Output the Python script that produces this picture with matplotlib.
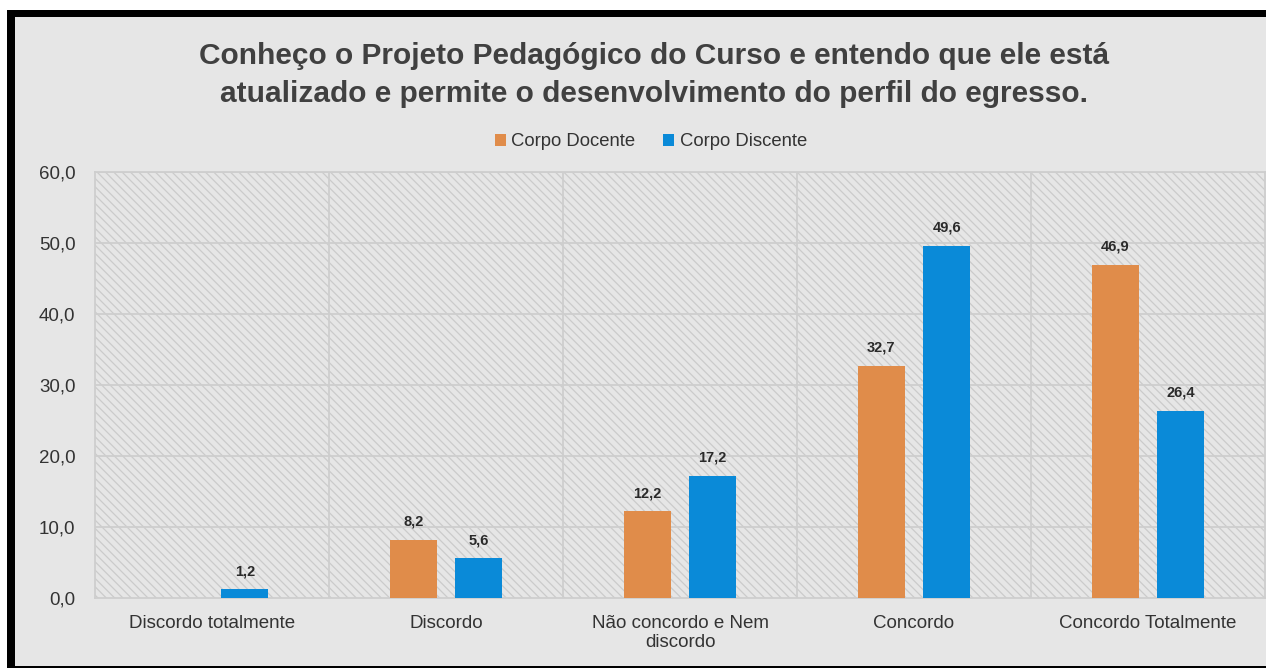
import matplotlib.pyplot as plt
import numpy as np
from matplotlib.patches import Rectangle

plt.rcParams['font.family'] = ['Liberation Sans', 'DejaVu Sans']
plt.rcParams['hatch.linewidth'] = 0.9

# data
categorias = ['Discordo totalmente', 'Discordo', 'Não concordo e Nem\ndiscordo',
              'Concordo', 'Concordo Totalmente']
docente = [0.0, 8.2, 12.2, 32.7, 46.9]
discente = [1.2, 5.6, 17.2, 49.6, 26.4]
series = ['Corpo Docente', 'Corpo Discente']
yticks = [0, 10, 20, 30, 40, 50, 60]

cor_docente = '#E08C4A'
cor_discente = '#0A8AD8'
fundo = '#E6E6E6'
grade = '#CECECE'
texto = '#333333'

W, H = 1266, 668
fig = plt.figure(figsize=(W / 100, H / 100), dpi=100)
fig.patch.set_facecolor('white')


def px_rect(x0, y0, x1, y1, color, z):
    # retangulo em pixels (origem no topo)
    r = Rectangle((x0 / W, 1 - y1 / H), (x1 - x0) / W, (y1 - y0) / H,
                  transform=fig.transFigure, facecolor=color,
                  edgecolor='none', zorder=z)
    fig.patches.append(r)


# fundo cinza e moldura preta (esquerda, topo, baixo)
px_rect(7, 10, W, H, fundo, -10)
px_rect(7, 10, 15, H, 'black', -9)
px_rect(7, 10, W, 17, 'black', -9)
px_rect(7, 666, W, H, 'black', -9)

ax = fig.add_axes([95 / W, 1 - 598 / H, (1265 - 95) / W, (598 - 172) / H])
ax.set_facecolor(fundo)
bg = Rectangle((0, 0), 1, 1, transform=ax.transAxes, facecolor=fundo,
               edgecolor='#CBCBCB', hatch='\\\\\\\\', linewidth=0, zorder=0)
ax.add_patch(bg)

x = np.arange(len(categorias))
w = 0.2
off = 0.14
b1 = ax.bar(x - off, docente, w, color=cor_docente, label=series[0], zorder=3)
b2 = ax.bar(x + off, discente, w, color=cor_discente, label=series[1], zorder=3)

for bars, vals in [(b1, docente), (b2, discente)]:
    for b, v in zip(bars, vals):
        if v > 0:
            ax.annotate(f'{v:.1f}'.replace('.', ','),
                        (b.get_x() + b.get_width() / 2, v),
                        xytext=(0, 8), textcoords='offset points',
                        ha='center', va='bottom', fontsize=10.5,
                        fontweight='bold', color='#2a2a2a', zorder=4)

ax.set_xlim(-0.5, len(categorias) - 0.5)
ax.set_ylim(0, 60)
ax.set_yticks(yticks)
ax.set_yticklabels([f'{t:.1f}'.replace('.', ',') for t in yticks])
ax.set_xticks(x)
ax.set_xticklabels(categorias)
ax.tick_params(axis='both', length=0, labelsize=13.5, labelcolor=texto)
ax.tick_params(axis='y', pad=14)
ax.tick_params(axis='x', pad=12)

for t in yticks[1:]:
    ax.axhline(t, color=grade, linewidth=1.3, zorder=1)
for s in np.arange(0.5, len(categorias) - 0.5, 1):
    ax.axvline(s, color=grade, linewidth=1.3, zorder=1)
for sp in ax.spines.values():
    sp.set_color(grade)
    sp.set_linewidth(1.3)

fig.text(654 / W, 1 - 75 / H,
         'Conheço o Projeto Pedagógico do Curso e entendo que ele está\n'
         'atualizado e permite o desenvolvimento do perfil do egresso.',
         ha='center', va='center', fontsize=21.5, fontweight='bold',
         color='#404040', linespacing=1.45)

fig.legend(loc='center', bbox_to_anchor=(651 / W, 1 - 142 / H), ncol=2,
           frameon=False, fontsize=13.3, handlelength=0.6, handleheight=0.6,
           handletextpad=0.3, columnspacing=1.5, labelcolor=texto)

fig.savefig('out.png', dpi=100, facecolor=fig.get_facecolor())
